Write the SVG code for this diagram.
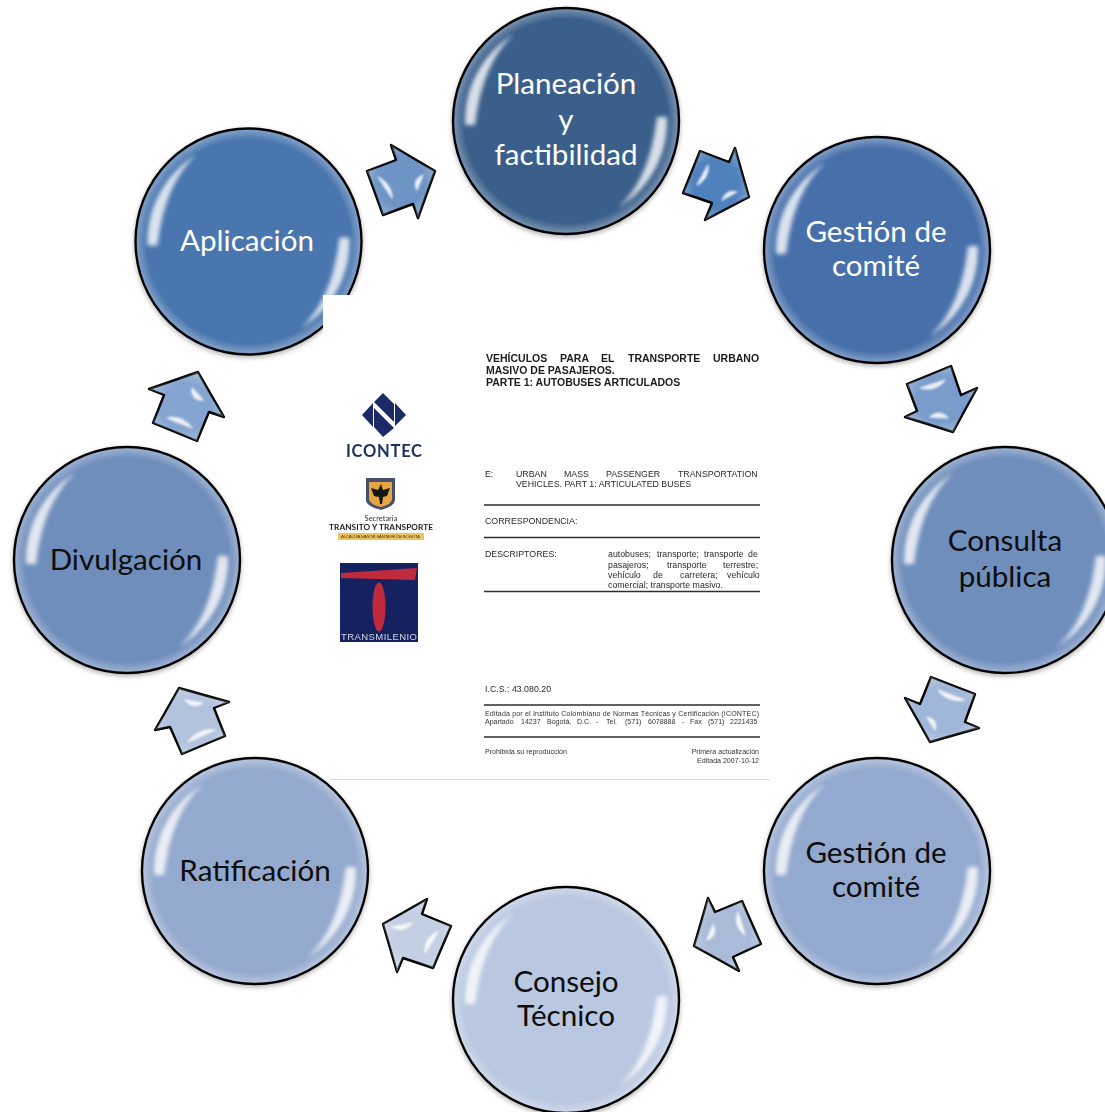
<svg xmlns="http://www.w3.org/2000/svg" width="1105" height="1112" viewBox="0 0 1105 1112">
<style>
.disc{stroke:#000;stroke-width:2.4;filter:url(#shadow)}
.rim{fill:url(#rim)}
.lbl{font-family:Lato,"Open Sans","Liberation Sans",sans-serif;font-size:29.6px;text-anchor:middle;fill:#0d0d0d}
.w{fill:#fff}
.arrow{stroke:#000;stroke-width:2.4;stroke-linejoin:round}
.bevel{fill:url(#bevel)}
.hl{fill:#fff;stroke:#fff;stroke-width:1.2;stroke-linejoin:round;opacity:.85;filter:url(#b1)}
.d{font-family:"Liberation Sans",Arial,sans-serif;fill:#2a2a2a;font-size:8.8px}
.db{font-weight:bold;font-size:10.5px;fill:#1c1c1c}
.ds{font-size:7.05px;fill:#333}
.rule{stroke:#2f2f2f;stroke-width:1.7}
</style>
<defs>
<filter id="shadow" x="-10%" y="-10%" width="120%" height="120%"><feDropShadow dx="0" dy="2" stdDeviation="2.5" flood-color="#000" flood-opacity=".3"/></filter>
<filter id="b1" x="-30%" y="-30%" width="160%" height="160%"><feGaussianBlur stdDeviation=".9"/></filter>
<filter id="b2" x="-20%" y="-20%" width="140%" height="140%"><feGaussianBlur stdDeviation="2.2"/></filter>
<filter id="photo" x="0" y="0" width="100%" height="100%"><feGaussianBlur stdDeviation=".42"/></filter>
<radialGradient id="rim"><stop offset=".91" stop-color="#fff" stop-opacity="0"/><stop offset=".99" stop-color="#fff" stop-opacity=".28"/><stop offset="1" stop-color="#fff" stop-opacity=".15"/></radialGradient>
<radialGradient id="bevel" r=".62"><stop offset=".55" stop-color="#fff" stop-opacity="0"/><stop offset="1" stop-color="#fff" stop-opacity=".4"/></radialGradient>
<g id="gloss" filter="url(#b2)" fill="#fff" opacity=".8">
<path d="M-101 4A101 101 0 0 1-52-87Q-84-58-91 4Z"/>
<path d="M101-4A101 101 0 0 1 52 87Q84 58 91-4Z"/>
</g>
</defs>
<rect width="1105" height="1112" fill="#fff"/>

<g id="connectors">
<g><polygon class="arrow" fill="#6d94c4" points="367,171 396,160 391,145 435,171 418,218 413,204 383,215"/><polygon class="bevel" points="367,171 396,160 391,145 435,171 418,218 413,204 383,215"/><path class="hl" d="M378 177L392 198Q392 185 378 177ZM423 175L417 190Q412 180 423 175Z"/></g>
<g><polygon class="arrow" fill="#4f81bd" points="700,151 729,162 735,148 749,197 705,220 712,203 683,193"/><polygon class="bevel" points="700,151 729,162 735,148 749,197 705,220 712,203 683,193"/><path class="hl" d="M708 165L697 185Q709 178 708 165ZM737 192L722 200Q727 189 737 192Z"/></g>
<g><polygon class="arrow" fill="#7a9ccb" points="907,384 951,366 961,395 977,388 953,432 905,417 917,411"/><polygon class="bevel" points="907,384 951,366 961,395 977,388 953,432 905,417 917,411"/><path class="hl" d="M920 388L945 380Q935 392 920 388ZM930 417L948 418Q939 409 930 417Z"/></g>
<g><polygon class="arrow" fill="#a0b6d8" points="931,677 975,694 965,722 979,728 930,742 905,698 920,704"/><polygon class="bevel" points="931,677 975,694 965,722 979,728 930,742 905,698 920,704"/><path class="hl" d="M938 690L965 700Q948 703 938 690ZM927 717L935 730Q938 720 927 717Z"/></g>
<g><polygon class="arrow" fill="#aabbd9" points="742,901 761,944 733,957 739,971 694,946 708,898 715,912"/><polygon class="bevel" points="742,901 761,944 733,957 739,971 694,946 708,898 715,912"/><path class="hl" d="M738 912L745 935Q733 925 738 912ZM713 925L707 940Q718 935 713 925Z"/></g>
<g><polygon class="arrow" fill="#c3cfe3" points="427,899 422,914 451,926 433,968 403,958 397,972 383,924"/><polygon class="bevel" points="427,899 422,914 451,926 433,968 403,958 397,972 383,924"/><path class="hl" d="M392 927L412 923Q403 933 392 927ZM438 932L425 953Q424 938 438 932Z"/></g>
<g><polygon class="arrow" fill="#b3c3de" points="179,688 229,702 214,708 225,736 182,754 170,727 155,730"/><polygon class="bevel" points="179,688 229,702 214,708 225,736 182,754 170,727 155,730"/><path class="hl" d="M185 700L203 703Q193 709 185 700ZM188 742L215 730Q198 728 188 742Z"/></g>
<g><polygon class="arrow" fill="#85a5d0" points="198,372 224,417 209,412 197,441 153,423 164,395 149,389"/><polygon class="bevel" points="198,372 224,417 209,412 197,441 153,423 164,395 149,389"/><path class="hl" d="M192 388L203 400Q191 400 192 388ZM167 418L192 428Q182 415 167 418Z"/></g>
</g>

<g id="node-planeacion"><circle class="disc" cx="566" cy="121" r="113" fill="#3a5f8b"/><circle class="rim" cx="566" cy="121" r="112"/><use href="#gloss" x="566" y="121"/><text class="lbl w" x="566" y="94">Planeación</text><text class="lbl w" x="566" y="130">y</text><text class="lbl w" x="566" y="165">factibilidad</text></g>
<g id="node-gestion-1"><circle class="disc" cx="877" cy="250" r="113" fill="#4770aa"/><circle class="rim" cx="877" cy="250" r="112"/><use href="#gloss" x="877" y="250"/><text class="lbl w" x="876" y="242">Gestión de</text><text class="lbl w" x="876" y="276">comité</text></g>
<g id="node-consulta"><circle class="disc" cx="1005" cy="560" r="113" fill="#6f8ebc"/><circle class="rim" cx="1005" cy="560" r="112"/><use href="#gloss" x="1005" y="560"/><text class="lbl" x="1005" y="551">Consulta</text><text class="lbl" x="1005" y="587">pública</text></g>
<g id="node-gestion-2"><circle class="disc" cx="877" cy="871" r="113" fill="#93a9cf"/><circle class="rim" cx="877" cy="871" r="112"/><use href="#gloss" x="877" y="871"/><text class="lbl" x="876" y="863">Gestión de</text><text class="lbl" x="876" y="897">comité</text></g>
<g id="node-consejo"><circle class="disc" cx="566" cy="1000" r="113" fill="#b9c7e0"/><circle class="rim" cx="566" cy="1000" r="112"/><use href="#gloss" x="566" y="1000"/><text class="lbl" x="566" y="992">Consejo</text><text class="lbl" x="566" y="1026">Técnico</text></g>
<g id="node-ratificacion"><circle class="disc" cx="255" cy="871" r="113" fill="#94a9ce"/><circle class="rim" cx="255" cy="871" r="112"/><use href="#gloss" x="255" y="871"/><text class="lbl" x="255" y="881">Ratificación</text></g>
<g id="node-divulgacion"><circle class="disc" cx="127" cy="560" r="113" fill="#6f8ebc"/><circle class="rim" cx="127" cy="560" r="112"/><use href="#gloss" x="127" y="560"/><text class="lbl" x="126" y="570">Divulgación</text></g>
<g id="node-aplicacion"><circle class="disc" cx="248.500" cy="241.500" r="113" fill="#4a76ae"/><circle class="rim" cx="248.500" cy="241.500" r="112"/><use href="#gloss" x="248.500" y="241.500"/><text class="lbl w" x="247" y="251">Aplicación</text></g>

<g id="document">
<rect x="323" y="295" width="447" height="484" fill="#fff"/>
<line x1="330" y1="779.500" x2="770" y2="779.500" stroke="#dcdcdc" stroke-width="1"/>
<g filter="url(#photo)">
<g id="logo-icontec">
<path fill="#1a2c6b" d="M362 415L373 403V427ZM406 415L395 403V426ZM383 393L394 404V422L374 402ZM383 437L374 427V408L394 428Z"/>
<text x="346" y="457" font-family="Lato,sans-serif" font-weight="bold" font-size="16.500" fill="#1f3060" textLength="76" lengthAdjust="spacing">ICONTEC</text>
</g>
<g id="logo-transito">
<path fill="#46506f" d="M366 478H395V500Q395 506 381 510Q366 506 366 500Z"/>
<path fill="#e5a63e" d="M369 482H392V499Q392 504 381 507Q369 504 369 499Z"/>
<path fill="#151515" d="M381 484L383 490L390 488L387 496L383 497L382 504H380L379 497L374 496L371 488L378 490Z"/>
<text x="381" y="521" text-anchor="middle" font-family="Lato,sans-serif" font-size="7.500" fill="#333">Secretaria</text>
<text x="329" y="529.500" font-family="Lato,sans-serif" font-weight="bold" font-size="8.200" fill="#222" textLength="104" lengthAdjust="spacing">TRANSITO Y TRANSPORTE</text>
<rect x="338" y="533" width="86" height="7" fill="#efc25c"/>
<text x="341" y="538" font-family="Liberation Sans,sans-serif" font-size="4.400" fill="#4a4020" textLength="79" lengthAdjust="spacing">ALCALDIA MAYOR SANTA FE DE BOGOTA</text>
</g>
<g id="logo-transmilenio">
<rect x="340" y="563" width="78" height="79" fill="#15205f"/>
<path fill="#c02a3e" d="M341 573L417 568L415 580L341 578Z"/>
<ellipse cx="379" cy="607" rx="6.500" ry="24.500" fill="#c02a3e"/>
<text x="341" y="640" font-family="Liberation Sans,sans-serif" font-size="9.500" fill="#d5d9e6" textLength="76" lengthAdjust="spacing">TRANSMILENIO</text>
</g>
<g id="doc-text">
<text class="d db" y="362"><tspan x="486">VEHÍCULOS</tspan><tspan x="560">PARA</tspan><tspan x="601">EL</tspan><tspan x="628">TRANSPORTE</tspan><tspan x="713">URBANO</tspan></text>
<text class="d db" x="486" y="374">MASIVO DE PASAJEROS.</text>
<text class="d db" x="486" y="386">PARTE 1: AUTOBUSES ARTICULADOS</text>
<text class="d" y="477"><tspan x="485">E:</tspan><tspan x="516">URBAN</tspan><tspan x="564">MASS</tspan><tspan x="606">PASSENGER</tspan><tspan x="678">TRANSPORTATION</tspan></text>
<text class="d" x="516" y="487">VEHICLES. PART 1: ARTICULATED BUSES</text>
<line class="rule" x1="484" y1="505" x2="760" y2="505"/>
<text class="d" x="485" y="524">CORRESPONDENCIA:</text>
<line class="rule" x1="484" y1="537.500" x2="760" y2="537.500"/>
<text class="d" x="485" y="557">DESCRIPTORES:</text>
<text class="d" y="557"><tspan x="608">autobuses;</tspan><tspan x="657">transporte;</tspan><tspan x="704">transporte</tspan><tspan x="748">de</tspan></text>
<text class="d" y="567.500"><tspan x="608">pasajeros;</tspan><tspan x="667">transporte</tspan><tspan x="723">terrestre;</tspan></text>
<text class="d" y="578"><tspan x="608">vehículo</tspan><tspan x="653">de</tspan><tspan x="680">carretera;</tspan><tspan x="727">vehículo</tspan></text>
<text class="d" x="608" y="588">comercial; transporte masivo.</text>
<line class="rule" x1="484" y1="591.500" x2="760" y2="591.500"/>
<text class="d" x="485" y="692">I.C.S.: 43.080.20</text>
<line class="rule" x1="484" y1="705" x2="760" y2="705"/>
<text class="d ds" x="485" y="715.500" textLength="274" lengthAdjust="spacing">Editada por el Instituto Colombiano de Normas Técnicas y Certificación (ICONTEC)</text>
<text class="d ds" y="723.500"><tspan x="485">Apartado</tspan><tspan x="521">14237</tspan><tspan x="547">Bogotá,</tspan><tspan x="577">D.C.</tspan><tspan x="596">-</tspan><tspan x="606">Tel.</tspan><tspan x="625">(571)</tspan><tspan x="648">6078888</tspan><tspan x="682">-</tspan><tspan x="690">Fax</tspan><tspan x="708">(571)</tspan><tspan x="730">2221435</tspan></text>
<line class="rule" x1="484" y1="737" x2="760" y2="737"/>
<text class="d ds" x="485" y="753.500">Prohibida su reproducción</text>
<text class="d ds" x="759" y="753.500" text-anchor="end">Primera actualización</text>
<text class="d ds" x="759" y="763" text-anchor="end">Editada 2007-10-12</text>
</g>
</g>
</g>
</svg>
